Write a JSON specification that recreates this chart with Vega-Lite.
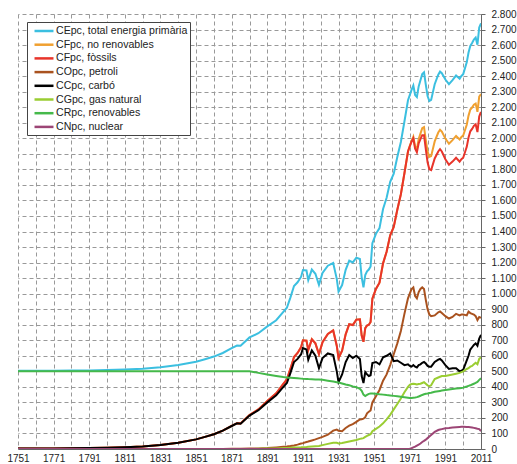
{
"$schema":"https://vega.github.io/schema/vega-lite/v6.json",
"width":463,"height":435,"autosize":"none",
"padding":{"left":18,"top":14,"right":36,"bottom":15},
"background":"white",
"config":{"view":{"stroke":null},"font":"Liberation Sans"},
"data":{"values":[
{"yr":1751,"CC":3,"CO":0,"CG":0,"CN":0,"CR":500,"CF":3,"CFnr":3,"CE":503},
{"yr":1761,"CC":3,"CO":0,"CG":0,"CN":0,"CR":500,"CF":3,"CFnr":3,"CE":503},
{"yr":1771,"CC":4,"CO":0,"CG":0,"CN":0,"CR":500,"CF":4,"CFnr":4,"CE":504},
{"yr":1781,"CC":5,"CO":0,"CG":0,"CN":0,"CR":500,"CF":5,"CFnr":5,"CE":505},
{"yr":1791,"CC":6,"CO":0,"CG":0,"CN":0,"CR":500,"CF":6,"CFnr":6,"CE":506},
{"yr":1801,"CC":8,"CO":0,"CG":0,"CN":0,"CR":500,"CF":8,"CFnr":8,"CE":508},
{"yr":1811,"CC":11,"CO":0,"CG":0,"CN":0,"CR":500,"CF":11,"CFnr":11,"CE":511},
{"yr":1821,"CC":16,"CO":0,"CG":0,"CN":0,"CR":500,"CF":16,"CFnr":16,"CE":516},
{"yr":1831,"CC":26,"CO":0,"CG":0,"CN":0,"CR":500,"CF":26,"CFnr":26,"CE":526},
{"yr":1841,"CC":40,"CO":0,"CG":0,"CN":0,"CR":500,"CF":40,"CFnr":40,"CE":540},
{"yr":1851,"CC":62,"CO":0,"CG":0,"CN":0,"CR":500,"CF":62,"CFnr":62,"CE":562},
{"yr":1856,"CC":78,"CO":0,"CG":0,"CN":0,"CR":500,"CF":78,"CFnr":78,"CE":578},
{"yr":1861,"CC":95,"CO":0,"CG":0,"CN":0,"CR":500,"CF":95,"CFnr":95,"CE":595},
{"yr":1866,"CC":118,"CO":0,"CG":0,"CN":0,"CR":500,"CF":118,"CFnr":118,"CE":618},
{"yr":1871,"CC":148,"CO":1,"CG":0,"CN":0,"CR":500,"CF":149,"CFnr":149,"CE":649},
{"yr":1874,"CC":165,"CO":1,"CG":0,"CN":0,"CR":500,"CF":166,"CFnr":166,"CE":666},
{"yr":1876,"CC":163,"CO":2,"CG":0,"CN":0,"CR":500,"CF":165,"CFnr":165,"CE":665},
{"yr":1881,"CC":215,"CO":3,"CG":0,"CN":0,"CR":500,"CF":218,"CFnr":218,"CE":718},
{"yr":1886,"CC":250,"CO":4,"CG":1,"CN":0,"CR":490,"CF":255,"CFnr":255,"CE":745},
{"yr":1891,"CC":300,"CO":6,"CG":3,"CN":0,"CR":480,"CF":309,"CFnr":309,"CE":789},
{"yr":1896,"CC":345,"CO":10,"CG":4,"CN":0,"CR":470,"CF":359,"CFnr":359,"CE":829},
{"yr":1900,"CC":400,"CO":14,"CG":6,"CN":0,"CR":463,"CF":420,"CFnr":420,"CE":883},
{"yr":1902,"CC":425,"CO":16,"CG":7,"CN":0,"CR":461,"CF":448,"CFnr":448,"CE":909},
{"yr":1904,"CC":490,"CO":19,"CG":8,"CN":0,"CR":459,"CF":517,"CFnr":517,"CE":976},
{"yr":1906,"CC":560,"CO":23,"CG":9,"CN":0,"CR":457,"CF":592,"CFnr":592,"CE":1049},
{"yr":1908,"CC":580,"CO":28,"CG":10,"CN":0,"CR":455,"CF":618,"CFnr":618,"CE":1073},
{"yr":1910,"CC":610,"CO":35,"CG":11,"CN":0,"CR":453,"CF":656,"CFnr":656,"CE":1109},
{"yr":1911,"CC":650,"CO":38,"CG":12,"CN":0,"CR":452,"CF":700,"CFnr":700,"CE":1152},
{"yr":1913,"CC":640,"CO":45,"CG":13,"CN":0,"CR":451,"CF":698,"CFnr":698,"CE":1149},
{"yr":1914,"CC":575,"CO":48,"CG":14,"CN":0,"CR":450,"CF":637,"CFnr":637,"CE":1087},
{"yr":1916,"CC":635,"CO":55,"CG":16,"CN":0,"CR":449,"CF":706,"CFnr":706,"CE":1155},
{"yr":1918,"CC":600,"CO":62,"CG":18,"CN":0,"CR":448,"CF":680,"CFnr":680,"CE":1128},
{"yr":1920,"CC":520,"CO":70,"CG":20,"CN":0,"CR":447,"CF":610,"CFnr":610,"CE":1057},
{"yr":1922,"CC":585,"CO":78,"CG":25,"CN":0,"CR":445,"CF":688,"CFnr":688,"CE":1133},
{"yr":1925,"CC":615,"CO":92,"CG":33,"CN":0,"CR":440,"CF":740,"CFnr":740,"CE":1180},
{"yr":1928,"CC":605,"CO":118,"CG":40,"CN":0,"CR":434,"CF":763,"CFnr":763,"CE":1197},
{"yr":1930,"CC":500,"CO":125,"CG":40,"CN":0,"CR":430,"CF":665,"CFnr":665,"CE":1095},
{"yr":1931,"CC":431,"CO":118,"CG":36,"CN":0,"CR":428,"CF":585,"CFnr":585,"CE":1013},
{"yr":1933,"CC":480,"CO":115,"CG":38,"CN":0,"CR":422,"CF":633,"CFnr":633,"CE":1055},
{"yr":1935,"CC":560,"CO":135,"CG":43,"CN":0,"CR":415,"CF":738,"CFnr":738,"CE":1153},
{"yr":1937,"CC":605,"CO":150,"CG":48,"CN":0,"CR":410,"CF":803,"CFnr":803,"CE":1213},
{"yr":1939,"CC":585,"CO":160,"CG":53,"CN":0,"CR":403,"CF":798,"CFnr":798,"CE":1201},
{"yr":1941,"CC":600,"CO":175,"CG":58,"CN":0,"CR":398,"CF":833,"CFnr":833,"CE":1231},
{"yr":1943,"CC":580,"CO":190,"CG":65,"CN":0,"CR":388,"CF":835,"CFnr":835,"CE":1223},
{"yr":1944,"CC":470,"CO":192,"CG":68,"CN":0,"CR":375,"CF":730,"CFnr":730,"CE":1105},
{"yr":1945,"CC":425,"CO":195,"CG":70,"CN":0,"CR":350,"CF":690,"CFnr":690,"CE":1040},
{"yr":1946,"CC":495,"CO":205,"CG":78,"CN":0,"CR":341,"CF":778,"CFnr":778,"CE":1119},
{"yr":1947,"CC":480,"CO":230,"CG":85,"CN":0,"CR":348,"CF":795,"CFnr":795,"CE":1143},
{"yr":1948,"CC":470,"CO":240,"CG":90,"CN":0,"CR":355,"CF":800,"CFnr":800,"CE":1155},
{"yr":1949,"CC":475,"CO":248,"CG":95,"CN":0,"CR":357,"CF":818,"CFnr":818,"CE":1175},
{"yr":1950,"CC":553,"CO":300,"CG":115,"CN":0,"CR":357,"CF":968,"CFnr":968,"CE":1325},
{"yr":1952,"CC":560,"CO":340,"CG":130,"CN":0,"CR":355,"CF":1030,"CFnr":1030,"CE":1385},
{"yr":1954,"CC":545,"CO":380,"CG":145,"CN":0,"CR":352,"CF":1070,"CFnr":1070,"CE":1422},
{"yr":1956,"CC":590,"CO":440,"CG":165,"CN":0,"CR":350,"CF":1195,"CFnr":1195,"CE":1545},
{"yr":1958,"CC":600,"CO":480,"CG":190,"CN":0,"CR":347,"CF":1270,"CFnr":1270,"CE":1617},
{"yr":1960,"CC":615,"CO":540,"CG":220,"CN":0,"CR":345,"CF":1375,"CFnr":1375,"CE":1720},
{"yr":1962,"CC":565,"CO":610,"CG":255,"CN":0,"CR":342,"CF":1430,"CFnr":1430,"CE":1772},
{"yr":1964,"CC":570,"CO":680,"CG":290,"CN":0,"CR":339,"CF":1540,"CFnr":1540,"CE":1879},
{"yr":1966,"CC":555,"CO":760,"CG":325,"CN":0,"CR":336,"CF":1640,"CFnr":1640,"CE":1976},
{"yr":1968,"CC":540,"CO":870,"CG":365,"CN":0,"CR":333,"CF":1775,"CFnr":1775,"CE":2108},
{"yr":1970,"CC":545,"CO":970,"CG":400,"CN":0,"CR":330,"CF":1915,"CFnr":1915,"CE":2245},
{"yr":1971,"CC":535,"CO":1000,"CG":413,"CN":2,"CR":328,"CF":1948,"CFnr":1950,"CE":2278},
{"yr":1972,"CC":530,"CO":1030,"CG":418,"CN":5,"CR":329,"CF":1978,"CFnr":1983,"CE":2312},
{"yr":1973,"CC":540,"CO":1040,"CG":420,"CN":10,"CR":330,"CF":2000,"CFnr":2010,"CE":2340},
{"yr":1974,"CC":530,"CO":985,"CG":418,"CN":15,"CR":331,"CF":1933,"CFnr":1948,"CE":2279},
{"yr":1975,"CC":525,"CO":970,"CG":415,"CN":22,"CR":334,"CF":1910,"CFnr":1932,"CE":2266},
{"yr":1976,"CC":540,"CO":1010,"CG":418,"CN":28,"CR":338,"CF":1968,"CFnr":1996,"CE":2334},
{"yr":1977,"CC":545,"CO":1030,"CG":420,"CN":35,"CR":343,"CF":1995,"CFnr":2030,"CE":2373},
{"yr":1978,"CC":555,"CO":1040,"CG":425,"CN":45,"CR":348,"CF":2020,"CFnr":2065,"CE":2413},
{"yr":1979,"CC":560,"CO":1030,"CG":430,"CN":52,"CR":352,"CF":2020,"CFnr":2072,"CE":2424},
{"yr":1980,"CC":550,"CO":960,"CG":420,"CN":60,"CR":355,"CF":1930,"CFnr":1990,"CE":2345},
{"yr":1981,"CC":535,"CO":900,"CG":410,"CN":70,"CR":357,"CF":1845,"CFnr":1915,"CE":2272},
{"yr":1982,"CC":530,"CO":865,"CG":405,"CN":80,"CR":360,"CF":1800,"CFnr":1880,"CE":2240},
{"yr":1983,"CC":530,"CO":855,"CG":410,"CN":90,"CR":362,"CF":1795,"CFnr":1885,"CE":2247},
{"yr":1985,"CC":560,"CO":860,"CG":450,"CN":110,"CR":368,"CF":1870,"CFnr":1980,"CE":2348},
{"yr":1987,"CC":575,"CO":880,"CG":460,"CN":122,"CR":372,"CF":1915,"CFnr":2037,"CE":2409},
{"yr":1988,"CC":580,"CO":885,"CG":465,"CN":125,"CR":374,"CF":1930,"CFnr":2055,"CE":2429},
{"yr":1989,"CC":570,"CO":875,"CG":470,"CN":128,"CR":376,"CF":1915,"CFnr":2043,"CE":2419},
{"yr":1991,"CC":540,"CO":855,"CG":470,"CN":133,"CR":380,"CF":1865,"CFnr":1998,"CE":2378},
{"yr":1993,"CC":515,"CO":840,"CG":475,"CN":135,"CR":383,"CF":1830,"CFnr":1965,"CE":2348},
{"yr":1995,"CC":520,"CO":850,"CG":480,"CN":138,"CR":386,"CF":1850,"CFnr":1988,"CE":2374},
{"yr":1997,"CC":520,"CO":870,"CG":485,"CN":140,"CR":389,"CF":1875,"CFnr":2015,"CE":2404},
{"yr":1999,"CC":500,"CO":860,"CG":490,"CN":142,"CR":391,"CF":1850,"CFnr":1992,"CE":2383},
{"yr":2000,"CC":505,"CO":865,"CG":495,"CN":143,"CR":393,"CF":1865,"CFnr":2008,"CE":2401},
{"yr":2001,"CC":510,"CO":865,"CG":500,"CN":143,"CR":395,"CF":1875,"CFnr":2018,"CE":2413},
{"yr":2003,"CC":570,"CO":860,"CG":515,"CN":142,"CR":402,"CF":1945,"CFnr":2087,"CE":2489},
{"yr":2004,"CC":600,"CO":885,"CG":520,"CN":141,"CR":406,"CF":2005,"CFnr":2146,"CE":2552},
{"yr":2005,"CC":640,"CO":875,"CG":530,"CN":140,"CR":410,"CF":2045,"CFnr":2185,"CE":2595},
{"yr":2006,"CC":655,"CO":870,"CG":535,"CN":138,"CR":415,"CF":2060,"CFnr":2198,"CE":2613},
{"yr":2007,"CC":670,"CO":865,"CG":545,"CN":136,"CR":420,"CF":2080,"CFnr":2216,"CE":2636},
{"yr":2008,"CC":680,"CO":855,"CG":555,"CN":133,"CR":425,"CF":2090,"CFnr":2223,"CE":2648},
{"yr":2009,"CC":665,"CO":830,"CG":545,"CN":130,"CR":432,"CF":2040,"CFnr":2170,"CE":2602},
{"yr":2010,"CC":710,"CO":850,"CG":580,"CN":128,"CR":445,"CF":2140,"CFnr":2268,"CE":2713},
{"yr":2011,"CC":735,"CO":845,"CG":590,"CN":115,"CR":455,"CF":2170,"CFnr":2285,"CE":2740}
]},
"transform":[{"fold":["CE","CFnr","CF","CO","CC","CG","CR","CN"],"as":["s","v"]}],
"mark":{"type":"line","strokeWidth":2,"clip":true},
"encoding":{
"x":{"field":"yr","type":"quantitative","scale":{"domain":[1751,2011],"nice":false,"zero":false},
"axis":{"title":null,"values":[1751,1761,1771,1781,1791,1801,1811,1821,1831,1841,1851,1861,1871,1881,1891,1901,1911,1921,1931,1941,1951,1961,1971,1981,1991,2001,2011],
"grid":true,"gridColor":"#999","gridDash":[4,3],"ticks":false,"domainColor":"#666",
"labelExpr":"(datum.value-1751)%20==0 ? ''+datum.value : ''","labelFontSize":10,"labelColor":"#222","labelPadding":4,"labelFlush":false,"labelOverlap":false}},
"y":{"field":"v","type":"quantitative","scale":{"domain":[0,2800],"nice":false},
"axis":{"title":null,"orient":"right","values":[0,100,200,300,400,500,600,700,800,900,1000,1100,1200,1300,1400,1500,1600,1700,1800,1900,2000,2100,2200,2300,2400,2500,2600,2700,2800],
"grid":true,"gridColor":"#999","gridDash":[4,3],"tickSize":4,"tickColor":"#666","domainColor":"#666",
"labelExpr":"replace(format(datum.value, ','), ',', '.')","labelFontSize":10,"labelColor":"#222","labelPadding":6,"labelFlush":false,"labelOverlap":false}},
"color":{"field":"s","type":"nominal",
"scale":{"domain":["CE","CFnr","CF","CO","CC","CG","CR","CN"],"range":["#3BBFE0","#F0A030","#E8342A","#A9521F","#000000","#9ACD32","#45B94A","#9C4575"]},
"legend":{"title":null,"orient":"none","legendX":9,"legendY":8,"symbolType":"M-0.27,0H3.18","symbolSize":121,"symbolStrokeWidth":2.5,
"labelFontSize":10.6,"labelColor":"#222","labelOffset":13,"padding":2,"rowPadding":0.7,"strokeColor":"#444","fillColor":"white","labelLimit":300,
"labelExpr":"datum.label=='CE'?'CEpc, total energia primària':datum.label=='CFnr'?'CFpc, no renovables':datum.label=='CF'?'CFpc, fòssils':datum.label=='CO'?'COpc, petroli':datum.label=='CC'?'CCpc, carbó':datum.label=='CG'?'CGpc, gas natural':datum.label=='CR'?'CRpc, renovables':'CNpc, nuclear'"}}
}
}
